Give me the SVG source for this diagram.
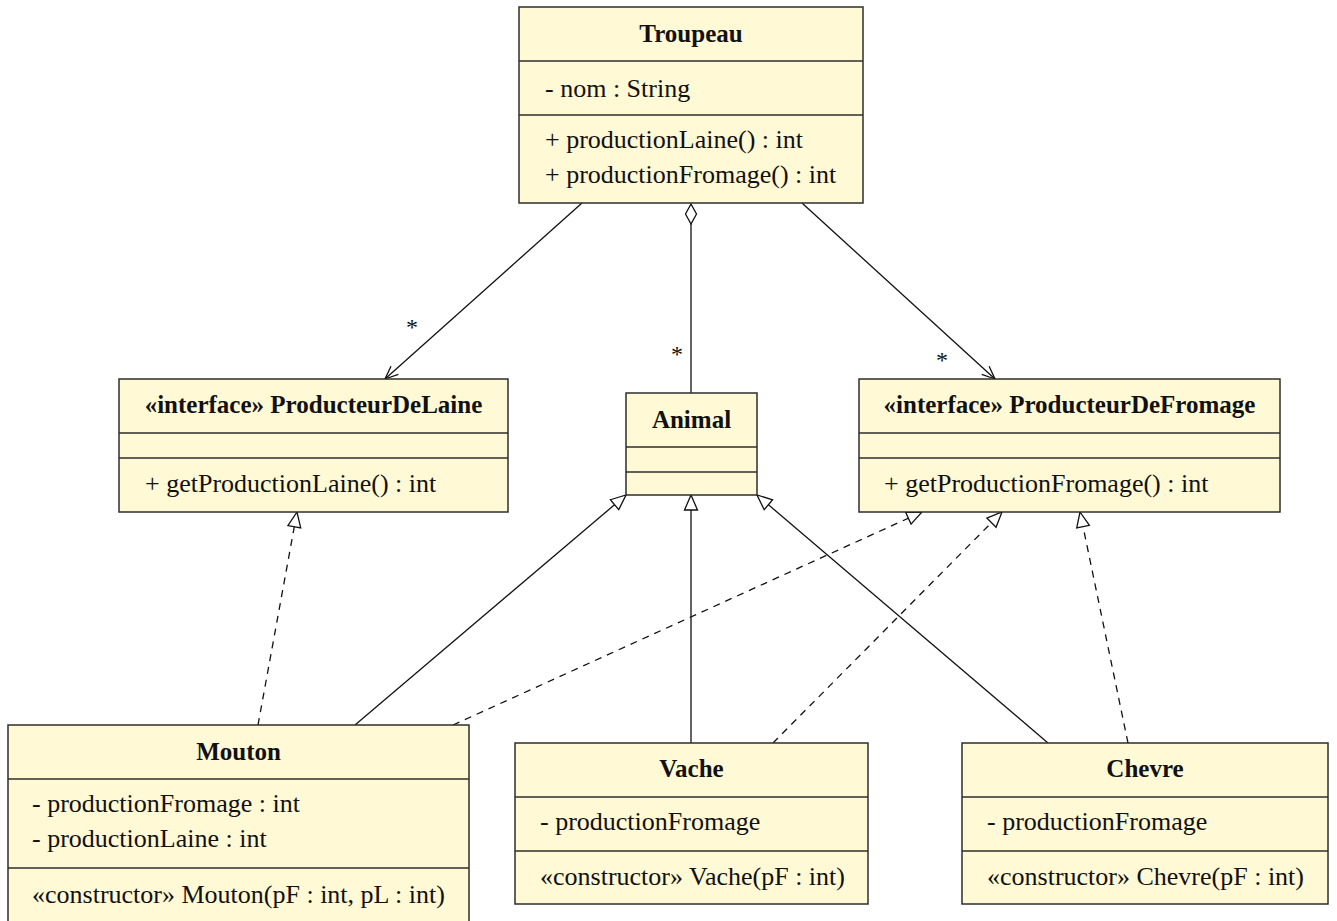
<svg xmlns="http://www.w3.org/2000/svg" width="1337" height="921" viewBox="0 0 1337 921">
  <style>
    .box { fill: #fff9d6; stroke: #2e2e2e; stroke-width: 1.5; }
    .sep { stroke: #2e2e2e; stroke-width: 1.5; }
    text { font-family: "Liberation Serif", "DejaVu Serif", serif; font-size: 26px; fill: #111; }
    .title { font-weight: bold; font-size: 25px; text-anchor: middle; }
    .mult { font-size: 24px; text-anchor: middle; }
    .edge { fill: none; stroke: #111; stroke-width: 1.3; }
    .dash { stroke-dasharray: 7 6; }
  </style>
  <defs>
    <marker id="open" viewBox="-1 -7 15 14" refX="13" refY="0" markerWidth="15" markerHeight="14" markerUnits="userSpaceOnUse" orient="auto">
      <path d="M0,-5.5 L13,0 L0,5.5" fill="none" stroke="#111" stroke-width="1.3"/>
    </marker>
    <marker id="tri" viewBox="-1 -8 17 16" refX="15" refY="0" markerWidth="17" markerHeight="16" markerUnits="userSpaceOnUse" orient="auto">
      <path d="M0,-6.5 L15,0 L0,6.5 Z" fill="#fff" stroke="#111" stroke-width="1.3"/>
    </marker>
    <marker id="diamond" viewBox="-1 -7 22 14" refX="0" refY="0" markerWidth="22" markerHeight="14" markerUnits="userSpaceOnUse" orient="auto">
      <path d="M0,0 L10,-5.5 L20,0 L10,5.5 Z" fill="#fff" stroke="#111" stroke-width="1.3"/>
    </marker>
  </defs>

  <!-- connectors -->
  <g id="connectors">
    <line class="edge" x1="582" y1="203" x2="385" y2="379" marker-end="url(#open)"/>
    <line class="edge" x1="802" y1="203" x2="995" y2="379" marker-end="url(#open)"/>
    <line class="edge" x1="691" y1="204" x2="691" y2="393" marker-start="url(#diamond)"/>
    <line class="edge" x1="355" y1="725" x2="626" y2="495" marker-end="url(#tri)"/>
    <line class="edge" x1="691" y1="743" x2="691" y2="495" marker-end="url(#tri)"/>
    <line class="edge" x1="1048" y1="743" x2="757" y2="495" marker-end="url(#tri)"/>
    <line class="edge dash" x1="258" y1="725" x2="297" y2="512" marker-end="url(#tri)"/>
    <line class="edge dash" x1="453" y1="725" x2="922" y2="512" marker-end="url(#tri)"/>
    <line class="edge dash" x1="773" y1="743" x2="1002" y2="512" marker-end="url(#tri)"/>
    <line class="edge dash" x1="1128" y1="743" x2="1080" y2="512" marker-end="url(#tri)"/>
    <text class="mult" x="412" y="335">*</text>
    <text class="mult" x="677" y="362">*</text>
    <text class="mult" x="942" y="368">*</text>
  </g>

  <!-- Troupeau -->
  <g id="troupeau">
    <rect class="box" x="519" y="7" width="344" height="196"/>
    <line class="sep" x1="519" y1="61" x2="863" y2="61"/>
    <line class="sep" x1="519" y1="115" x2="863" y2="115"/>
    <text class="title" x="691" y="42">Troupeau</text>
    <text x="545" y="97">- nom : String</text>
    <text x="545" y="148">+ productionLaine() : int</text>
    <text x="545" y="183">+ productionFromage() : int</text>
  </g>

  <!-- ProducteurDeLaine -->
  <g id="producteurDeLaine">
    <rect class="box" x="119" y="379" width="389" height="133"/>
    <line class="sep" x1="119" y1="433" x2="508" y2="433"/>
    <line class="sep" x1="119" y1="458" x2="508" y2="458"/>
    <text class="title" x="313.5" y="413">«interface» ProducteurDeLaine</text>
    <text x="145" y="492">+ getProductionLaine() : int</text>
  </g>

  <!-- Animal -->
  <g id="animal">
    <rect class="box" x="626" y="393" width="131" height="102"/>
    <line class="sep" x1="626" y1="447" x2="757" y2="447"/>
    <line class="sep" x1="626" y1="472" x2="757" y2="472"/>
    <text class="title" x="691.5" y="428">Animal</text>
  </g>

  <!-- ProducteurDeFromage -->
  <g id="producteurDeFromage">
    <rect class="box" x="859" y="379" width="421" height="133"/>
    <line class="sep" x1="859" y1="433" x2="1280" y2="433"/>
    <line class="sep" x1="859" y1="458" x2="1280" y2="458"/>
    <text class="title" x="1069.5" y="413">«interface» ProducteurDeFromage</text>
    <text x="884" y="492">+ getProductionFromage() : int</text>
  </g>

  <!-- Mouton -->
  <g id="mouton">
    <rect class="box" x="8" y="725" width="461" height="210"/>
    <line class="sep" x1="8" y1="779" x2="469" y2="779"/>
    <line class="sep" x1="8" y1="868" x2="469" y2="868"/>
    <text class="title" x="238.5" y="760">Mouton</text>
    <text x="32" y="812">- productionFromage : int</text>
    <text x="32" y="847">- productionLaine : int</text>
    <text x="32" y="903">«constructor» Mouton(pF : int, pL : int)</text>
  </g>

  <!-- Vache -->
  <g id="vache">
    <rect class="box" x="515" y="743" width="353" height="161"/>
    <line class="sep" x1="515" y1="797" x2="868" y2="797"/>
    <line class="sep" x1="515" y1="851" x2="868" y2="851"/>
    <text class="title" x="691.5" y="777">Vache</text>
    <text x="540" y="830">- productionFromage</text>
    <text x="540" y="885">«constructor» Vache(pF : int)</text>
  </g>

  <!-- Chevre -->
  <g id="chevre">
    <rect class="box" x="962" y="743" width="366" height="161"/>
    <line class="sep" x1="962" y1="797" x2="1328" y2="797"/>
    <line class="sep" x1="962" y1="851" x2="1328" y2="851"/>
    <text class="title" x="1145" y="777">Chevre</text>
    <text x="987" y="830">- productionFromage</text>
    <text x="987" y="885">«constructor» Chevre(pF : int)</text>
  </g>
</svg>
